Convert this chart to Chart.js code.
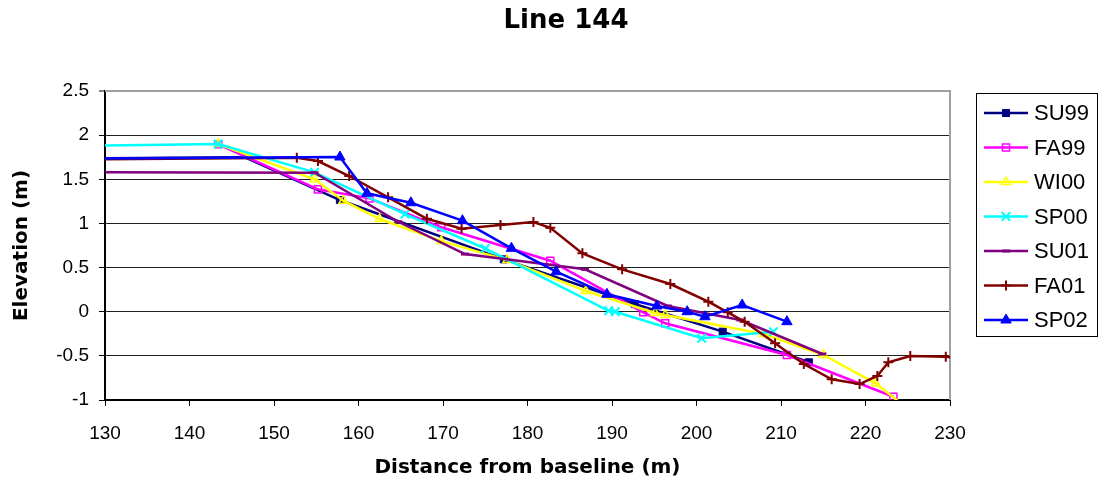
<!DOCTYPE html>
<html><head><meta charset="utf-8">
<script src="https://cdn.jsdelivr.net/npm/chart.js@4.4.0/dist/chart.umd.min.js"></script>
<style>html,body{margin:0;padding:0;background:#fff;}</style>
</head><body>
<canvas id="c" width="1101" height="483"></canvas>
<script>
const chartTitle = 'Line 144';
const xAxisTitle = 'Distance from baseline (m)';
const yAxisTitle = 'Elevation (m)';
const xTickValues = [130, 140, 150, 160, 170, 180, 190, 200, 210, 220, 230];
const yTickValues = [-1, -0.5, 0, 0.5, 1, 1.5, 2, 2.5];
const yTickLabels = ['-1', '-0.5', '0', '0.5', '1', '1.5', '2', '2.5'];
const seriesNames = ['SU99', 'FA99', 'WI00', 'SP00', 'SU01', 'FA01', 'SP02'];

const su99X = [120, 146.5, 157.8, 177.2, 192.7, 203.1, 213.3];
const su99Y = [1.73, 1.75, 1.265, 0.593, 0.087, -0.226, -0.573];
const fa99X = [143.4, 155.2, 161.3, 169.8, 182.7, 193.7, 196.3, 210.7, 223.3];
const fa99Y = [1.897, 1.386, 1.284, 0.956, 0.578, -0.007, -0.131, -0.49, -0.963];
const wi00X = [143.4, 154.8, 158.2, 162.5, 169.8, 177.6, 186.9, 195.1, 196.3, 208.0, 215.0, 221.2, 225];
const wi00Y = [1.9, 1.5, 1.257, 1.05, 0.80, 0.585, 0.234, -0.015, -0.037, -0.252, -0.49, -0.811, -1.1];
const sp00X = [120, 143.4, 154.8, 165.5, 175.0, 189.6, 190.4, 200.6, 209.1];
const sp00Y = [1.87, 1.9, 1.579, 1.106, 0.716, 0.011, 0.0, -0.301, -0.226];
const su01X = [120, 154.8, 164.7, 172.6, 186.8, 196.6, 205.2, 214.9];
const su01Y = [1.582, 1.574, 1.019, 0.653, 0.48, 0.065, -0.094, -0.479];
const fa01X = [120, 152.7, 155.2, 158.9, 163.5, 168.1, 172.2, 176.8, 180.7, 182.7, 186.5, 191.2, 196.9, 201.4, 203.7, 205.7, 209.3, 212.7, 216.0, 219.3, 221.4, 222.7, 225.3, 229.5, 233];
const fa01Y = [1.72, 1.744, 1.707, 1.537, 1.296, 1.053, 0.94, 0.982, 1.016, 0.951, 0.661, 0.48, 0.314, 0.113, -0.007, -0.113, -0.358, -0.592, -0.766, -0.819, -0.728, -0.573, -0.502, -0.51, -0.55];
const sp02X = [120, 157.8, 161.0, 166.2, 172.3, 178.1, 183.4, 189.4, 195.3, 198.9, 201.0, 205.4, 210.7];
const sp02Y = [1.73, 1.752, 1.341, 1.234, 1.031, 0.718, 0.453, 0.197, 0.065, 0.0, -0.057, 0.076, -0.113];

const FONT = "'Liberation Sans', Arial, sans-serif";
const BOLDFONT = "'DejaVu Sans', 'Liberation Sans', sans-serif";
const xs = [su99X, fa99X, wi00X, sp00X, su01X, fa01X, sp02X];
const ys = [su99Y, fa99Y, wi00Y, sp00Y, su01Y, fa01Y, sp02Y];
const styles = [
  {color: '#000080', pointStyle: 'rect', r: 5, fill: '#000080', bw: 1},
  {color: '#FF00FF', pointStyle: 'rect', r: 5, fill: 'rgba(0,0,0,0)', bw: 1.5},
  {color: '#FFFF00', pointStyle: 'triangle', r: 5, fill: 'rgba(0,0,0,0)', bw: 1.5},
  {color: '#00FFFF', pointStyle: 'crossRot', r: 6, fill: 'rgba(0,0,0,0)', bw: 2},
  {color: '#800080', pointStyle: 'line', r: 4, fill: '#800080', bw: 3},
  {color: '#800000', pointStyle: 'cross', r: 5, fill: '#800000', bw: 2},
  {color: '#0000FF', pointStyle: 'triangle', r: 6, fill: '#0000FF', bw: 1}
];

const datasets = seriesNames.map((name, i) => ({
  label: name,
  data: xs[i].map((x, j) => ({x: x, y: ys[i][j]})),
  borderColor: styles[i].color,
  backgroundColor: styles[i].fill,
  borderWidth: 2.5,
  pointStyle: styles[i].pointStyle,
  pointRadius: ctx => {
    const p = ctx.raw; if (!p) return styles[i].r;
    if (i === 0 && ctx.dataIndex === 1) return 0;
    return (p.x < 130 || p.x > 230 || p.y < -1 || p.y > 2.5) ? 0 : styles[i].r;
  },
  pointBackgroundColor: styles[i].fill,
  pointBorderColor: styles[i].color,
  pointBorderWidth: styles[i].bw,
  tension: 0,
  order: seriesNames.length - i
}));

const framePlugin = {
  id: 'frame',
  beforeDatasetsDraw(chart) {
    const {ctx, chartArea: a} = chart;
    ctx.save();
    ctx.strokeStyle = '#a0a0a0';
    ctx.lineWidth = 2;
    ctx.beginPath();
    ctx.moveTo(a.left, a.top); ctx.lineTo(a.right, a.top); ctx.lineTo(a.right, a.bottom);
    ctx.stroke();
    ctx.restore();
  },
  afterDraw(chart) {
    const ctx = chart.ctx;
    ctx.save();
    ctx.fillStyle = '#000';
    ctx.font = 'bold 26px ' + BOLDFONT;
    ctx.textAlign = 'center';
    ctx.textBaseline = 'middle';
    ctx.fillText(chartTitle, 566, 21);
    const bx = 976.5, by = 93.5, bw = 121, bh = 243;
    ctx.strokeStyle = '#000';
    ctx.lineWidth = 1;
    ctx.strokeRect(bx, by, bw, bh);
    ctx.font = '22px ' + FONT;
    ctx.textAlign = 'left';
    seriesNames.forEach((name, i) => {
      const y = 113 + i * 34.5;
      const s = styles[i];
      ctx.strokeStyle = s.color;
      ctx.lineWidth = 2.5;
      ctx.beginPath(); ctx.moveTo(984, y); ctx.lineTo(1028, y); ctx.stroke();
      ctx.fillStyle = s.fill;
      ctx.strokeStyle = s.color;
      ctx.lineWidth = s.bw;
      Chart.helpers.drawPoint(ctx, {pointStyle: s.pointStyle, radius: s.r, rotation: 0, borderWidth: s.bw}, 1006, y);
      ctx.fillStyle = '#000';
      ctx.fillText(name, 1034, y + 1);
    });
    ctx.restore();
  }
};

new Chart(document.getElementById('c'), {
  type: 'line',
  data: {datasets},
  options: {
    responsive: false,
    animation: false,
    devicePixelRatio: 1,
    layout: {padding: {left: 0, right: 151, top: 91, bottom: 0}},
    plugins: {legend: {display: false}, title: {display: false}, tooltip: {enabled: false}},
    scales: {
      x: {
        type: 'linear', min: xTickValues[0], max: xTickValues[xTickValues.length - 1],
        afterBuildTicks: s => { s.ticks = xTickValues.map(v => ({value: v})); },
        afterFit: s => { s.height = 83; },
        ticks: {color: '#000', font: {family: FONT, size: 19}, padding: 16, maxRotation: 0, autoSkip: false},
        grid: {drawOnChartArea: false, drawTicks: true, tickLength: 6, tickColor: '#000', tickWidth: 1},
        border: {color: '#000', width: 2},
        title: {display: true, text: xAxisTitle, color: '#000', font: {family: BOLDFONT, size: 20, weight: 'bold'}, padding: {top: 0, bottom: 3}}
      },
      y: {
        type: 'linear', min: yTickValues[0], max: yTickValues[yTickValues.length - 1],
        afterBuildTicks: s => { s.ticks = yTickValues.map(v => ({value: v})); },
        afterFit: s => { s.width = 105; },
        ticks: {color: '#000', font: {family: FONT, size: 19}, padding: 10,
          callback: (v) => { const k = yTickValues.indexOf(v); return k >= 0 ? yTickLabels[k] : ''; }},
        grid: {
          color: c => (c.tick && c.tick.value === 2.5) ? '#a0a0a0' : '#222',
          lineWidth: c => (c.tick && c.tick.value === 2.5) ? 2 : 1,
          tickLength: 6, tickColor: '#000', tickWidth: 1
        },
        border: {color: '#000', width: 2},
        title: {display: true, text: yAxisTitle, color: '#000', font: {family: BOLDFONT, size: 20, weight: 'bold'}, padding: {top: 10, bottom: 0}}
      }
    }
  },
  plugins: [framePlugin]
});
</script>
</body></html>
